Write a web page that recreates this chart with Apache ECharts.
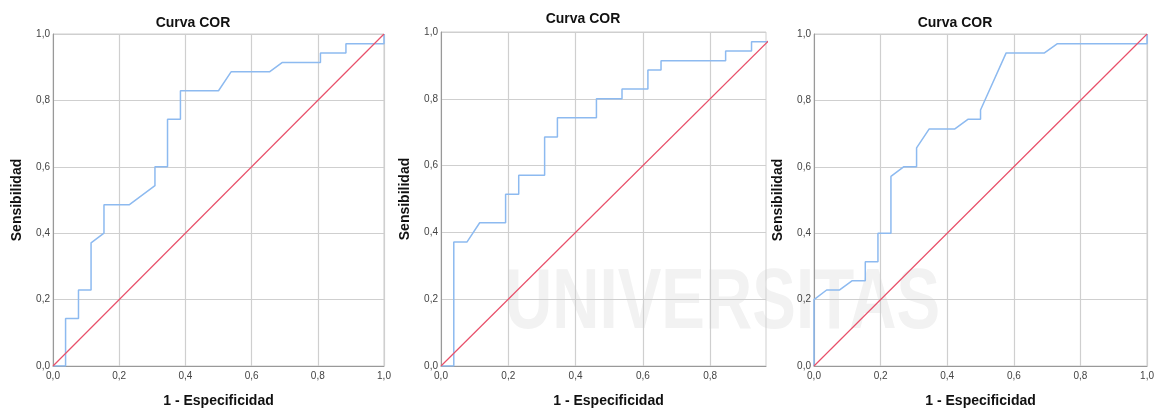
<!DOCTYPE html>
<html><head><meta charset="utf-8">
<script src="https://cdn.jsdelivr.net/npm/echarts@6/dist/echarts.min.js"></script>
<style>html,body{margin:0;padding:0;background:#fff}#c{width:1157px;height:413px}</style>
</head><body><div id="c"></div>
<script>
// ROC curve points [1 - specificity, sensitivity]
const roc1 = [[0,0],[0.038,0],[0.038,0.143],[0.077,0.143],[0.077,0.229],[0.115,0.229],[0.115,0.371],[0.154,0.4],[0.154,0.486],[0.231,0.486],[0.308,0.543],[0.308,0.6],[0.346,0.6],[0.346,0.743],[0.385,0.743],[0.385,0.829],[0.5,0.829],[0.538,0.886],[0.654,0.886],[0.692,0.914],[0.808,0.914],[0.808,0.943],[0.885,0.943],[0.885,0.971],[1,0.971],[1,1]];
const roc2 = [[0,0],[0.038,0],[0.038,0.371],[0.077,0.371],[0.115,0.429],[0.192,0.429],[0.192,0.514],[0.231,0.514],[0.231,0.571],[0.308,0.571],[0.308,0.686],[0.346,0.686],[0.346,0.743],[0.462,0.743],[0.462,0.8],[0.538,0.8],[0.538,0.829],[0.615,0.829],[0.615,0.886],[0.654,0.886],[0.654,0.914],[0.846,0.914],[0.846,0.943],[0.923,0.943],[0.923,0.971],[1,0.971],[1,1]];
const roc3 = [[0,0],[0,0.2],[0.038,0.229],[0.077,0.229],[0.115,0.257],[0.154,0.257],[0.154,0.314],[0.192,0.314],[0.192,0.4],[0.231,0.4],[0.231,0.571],[0.269,0.6],[0.308,0.6],[0.308,0.657],[0.346,0.714],[0.423,0.714],[0.462,0.743],[0.5,0.743],[0.5,0.771],[0.577,0.943],[0.692,0.943],[0.731,0.971],[1,0.971],[1,1]];
const diagonal = [[0,0],[1,1]];
const titleText = 'Curva COR';
const xName = '1 - Especificidad';
const yName = 'Sensibilidad';

const layout = [
  {grid:{left:53, top:34, width:331, height:333}, xMax:1, titleX:193, titleY:16, xNamePad:0},
  {grid:{left:441, top:32, width:325, height:336}, xMax:0.966, titleX:583, titleY:12, xNamePad:10},
  {grid:{left:814, top:34, width:335, height:336}, xMax:1, titleX:955, titleY:16, xNamePad:0}
];
const rocs = [roc1, roc2, roc3];
const FONT = 'Liberation Sans, Arial, sans-serif';
const fmt = v => v.toFixed(1).replace('.', ',');

const option = {
  animation: false,
  backgroundColor: '#fff',
  title: layout.map(l => ({
    text: titleText, left: l.titleX, top: l.titleY, textAlign: 'center', padding: 0,
    textStyle: {fontFamily: FONT, fontSize: 14, fontWeight: 'bold', color: '#111'}
  })),
  graphic: [{
    type: 'text', z: -10, left: 505, top: 262, scaleX: 0.77,
    style: {text: 'UNIVERSITAS', font: 'bold 85px Liberation Sans, Arial, sans-serif', fill: '#f2f2f2'}
  }],
  grid: layout.map(l => Object.assign({show: true, borderColor: '#cfcfcf', borderWidth: 1, backgroundColor: 'transparent', containLabel: false}, l.grid)),
  xAxis: layout.map((l, i) => ({
    type: 'value', gridIndex: i, min: 0, max: l.xMax, interval: 0.2,
    name: xName, nameLocation: 'middle', nameGap: 28,
    nameTextStyle: {fontFamily: FONT, fontSize: 14, fontWeight: 'bold', color: '#111', padding: [0, 0, 0, l.xNamePad]},
    axisLine: {show: true, lineStyle: {color: '#999', width: 1}},
    axisTick: {show: false},
    axisLabel: {fontFamily: FONT, fontSize: 10, color: '#444', margin: 5, showMaxLabel: l.xMax === 1,
      formatter: v => (Math.abs(v * 5 - Math.round(v * 5)) < 1e-6 ? fmt(v) : '')},
    splitLine: {show: true, showMaxLine: l.xMax === 1, lineStyle: {color: '#cfcfcf', width: 1.2}}
  })),
  yAxis: layout.map((l, i) => ({
    type: 'value', gridIndex: i, min: 0, max: 1, interval: 0.2,
    name: yName, nameLocation: 'middle', nameGap: 29,
    nameTextStyle: {fontFamily: FONT, fontSize: 14, fontWeight: 'bold', color: '#111'},
    axisLine: {show: true, lineStyle: {color: '#999', width: 1}},
    axisTick: {show: false},
    axisLabel: {fontFamily: FONT, fontSize: 10, color: '#444', margin: 3, formatter: fmt},
    splitLine: {show: true, lineStyle: {color: '#cfcfcf', width: 1.2}}
  })),
  series: [].concat(...rocs.map((d, i) => [
    {type: 'line', xAxisIndex: i, yAxisIndex: i, data: d, showSymbol: false, symbol: 'none', clip: true,
      lineStyle: {color: '#8dbaf0', width: 1.5}, z: 3},
    {type: 'line', xAxisIndex: i, yAxisIndex: i, data: diagonal, showSymbol: false, symbol: 'none', clip: true,
      lineStyle: {color: '#e8506a', width: 1.2}, z: 4}
  ]))
};
echarts.init(document.getElementById('c'), null, {renderer: 'canvas'}).setOption(option);
</script></body></html>
